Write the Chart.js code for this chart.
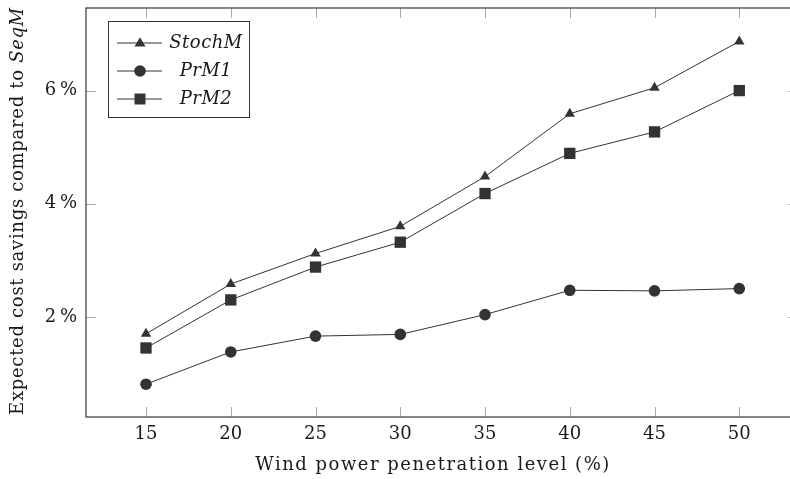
<!DOCTYPE html>
<html>
<head>
<meta charset="utf-8">
<script src="https://cdn.jsdelivr.net/npm/chart.js@4/dist/chart.umd.min.js"></script>
<style>
  html, body { margin: 0; padding: 0; background: #fff; overflow: hidden; }
  #wrap { position: relative; width: 790px; height: 479px; }
</style>
</head>
<body>
<div id="wrap"><canvas id="savings"></canvas></div>
<script>
// wind power penetration level (%)
var xValues = [15, 20, 25, 30, 35, 40, 45, 50];
// expected cost savings compared to SeqM (%)
var stochM = [1.70, 2.58, 3.12, 3.60, 4.48, 5.59, 6.05, 6.87];
var prM1 = [0.81, 1.38, 1.66, 1.69, 2.04, 2.47, 2.46, 2.50];
var prM2 = [1.45, 2.30, 2.88, 3.32, 4.18, 4.89, 5.27, 6.00];
var yTicks = [2, 4, 6];
var seriesNames = ['StochM', 'PrM1', 'PrM2'];

var ink = '#333333';
var textInk = '#1a1a1a';
var serif = "'DejaVu Serif', serif";
// the plot box runs a little past the right edge of the picture
var xBoxMax = 53.5;

function pairs(ys) {
    return xValues.map(function (x, i) { return { x: x, y: ys[i] }; });
}

// box, inner ticks, axis titles and legend drawn like pgfplots
var frame = {
    id: 'frame',
    afterDatasetsDraw: function (chart) {
        var c = chart.ctx, a = chart.chartArea;
        var xs = chart.scales.x, ys = chart.scales.y;
        var right = xs.getPixelForValue(xBoxMax);
        c.save();
        c.strokeStyle = '#aaaaaa';
        c.lineWidth = 1;
        xValues.forEach(function (v) {
            var px = Math.round(xs.getPixelForValue(v)) + 0.5;
            c.beginPath();
            c.moveTo(px, a.bottom); c.lineTo(px, a.bottom - 10);
            c.moveTo(px, a.top); c.lineTo(px, a.top + 10);
            c.stroke();
        });
        yTicks.forEach(function (v) {
            var py = Math.round(ys.getPixelForValue(v)) + 0.5;
            c.beginPath();
            c.moveTo(a.left, py); c.lineTo(a.left + 10, py);
            c.moveTo(right, py); c.lineTo(right - 10, py);
            c.stroke();
        });
        c.strokeStyle = '#444444';
        c.lineWidth = 1.3;
        c.strokeRect(a.left, a.top, right - a.left, a.bottom - a.top);

        c.fillStyle = textInk;
        // x axis title
        c.letterSpacing = '1.5px';
        c.font = '18px ' + serif;
        c.textAlign = 'center';
        c.textBaseline = 'middle';
        c.fillText('Wind power penetration level (%)', 433, 465);

        // y axis title with italic SeqM
        c.letterSpacing = '0.7px';
        var part1 = 'Expected cost savings compared to ';
        var part2 = 'SeqM';
        c.font = '18px ' + serif;
        var w1 = c.measureText(part1).width;
        c.font = 'italic 18px ' + serif;
        var w2 = c.measureText(part2).width;
        c.translate(18, 211);
        c.rotate(-Math.PI / 2);
        c.textAlign = 'left';
        var sx = -(w1 + w2) / 2;
        c.font = '18px ' + serif;
        c.fillText(part1, sx, 0);
        c.font = 'italic 18px ' + serif;
        c.fillText(part2, sx + w1, 0);
        c.restore();

        // legend
        c.save();
        c.fillStyle = '#ffffff';
        c.fillRect(108, 21, 141, 96);
        c.strokeStyle = ink;
        c.lineWidth = 1;
        c.strokeRect(108.5, 21.5, 141, 96);
        chart.data.datasets.forEach(function (ds, i) {
            var ly = 43 + i * 28;
            c.strokeStyle = ink;
            c.lineWidth = 1;
            c.beginPath();
            c.moveTo(117, ly); c.lineTo(162, ly);
            c.stroke();
            c.fillStyle = ink;
            c.beginPath();
            if (ds.pointStyle === 'triangle') {
                c.moveTo(140, ly - 5.8); c.lineTo(145.5, ly + 3.5); c.lineTo(134.5, ly + 3.5);
            } else if (ds.pointStyle === 'rect') {
                c.rect(134.5, ly - 5.5, 11, 11);
            } else {
                c.arc(140, ly, 5.8, 0, Math.PI * 2);
            }
            c.fill();
            c.fillStyle = textInk;
            c.font = 'italic 18px ' + serif;
            c.letterSpacing = '0.5px';
            c.textAlign = 'center';
            c.textBaseline = 'middle';
            c.fillText(ds.label, 206, ly);
        });
        c.restore();
    }
};

function makeSet(name, ys, style, radius) {
    return {
        label: name,
        data: pairs(ys),
        borderColor: ink,
        borderWidth: 1,
        backgroundColor: ink,
        pointBackgroundColor: ink,
        pointBorderColor: ink,
        pointBorderWidth: 0,
        pointStyle: style,
        pointRadius: radius,
        tension: 0
    };
}

new Chart(document.getElementById('savings'), {
    type: 'line',
    data: {
        datasets: [
            makeSet(seriesNames[0], stochM, 'triangle', 6),
            makeSet(seriesNames[1], prM1, 'circle', 5.8),
            makeSet(seriesNames[2], prM2, 'rect', 8)
        ]
    },
    options: {
        responsive: true,
        maintainAspectRatio: false,
        animation: false,
        layout: { padding: { left: 0, right: 0, top: 6, bottom: 0 } },
        plugins: {
            legend: { display: false },
            tooltip: { enabled: false }
        },
        scales: {
            x: {
                type: 'linear',
                min: 11.46,
                max: 52.52,
                grid: { display: false, drawTicks: false },
                border: { display: false },
                afterBuildTicks: function (s) {
                    s.ticks = xValues.map(function (v) { return { value: v }; });
                },
                afterFit: function (s) {
                    s.height = 62;
                    s.paddingLeft = 0; s.paddingRight = 0;
                },
                ticks: {
                    color: textInk,
                    padding: 7,
                    maxRotation: 0,
                    font: { family: serif, size: 18 }
                }
            },
            y: {
                min: 0.23,
                max: 7.46,
                grid: { display: false, drawTicks: false },
                border: { display: false },
                afterBuildTicks: function (s) {
                    s.ticks = yTicks.map(function (v) { return { value: v }; });
                },
                afterFit: function (s) {
                    s.width = 86;
                    s.paddingTop = 0; s.paddingBottom = 0;
                },
                ticks: {
                    color: textInk,
                    padding: 9,
                    font: { family: serif, size: 18 },
                    callback: function (v) { return v + '\u2009%'; }
                }
            }
        }
    },
    plugins: [frame]
});
</script>
</body>
</html>
